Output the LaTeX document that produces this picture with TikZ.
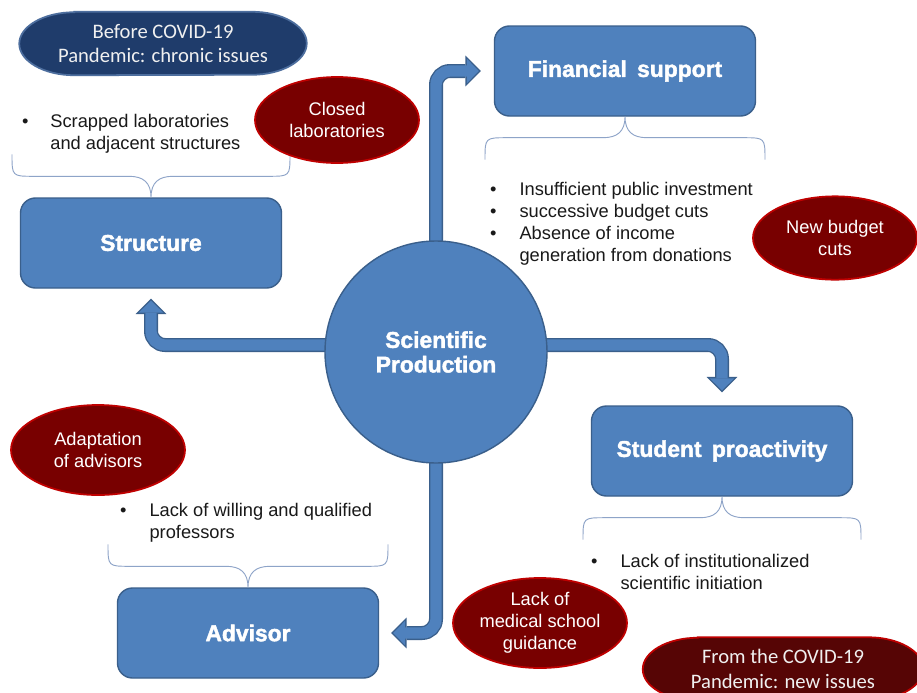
\documentclass[tikz,border=0pt]{standalone}
\usepackage{fontspec}
\setmainfont{Liberation Sans}
\newfontfamily\calfont{Carlito}
\newfontfamily\heavyfont{Liberation Sans Bold}[FakeBold=1.8]
\usetikzlibrary{shapes.geometric, arrows.meta, backgrounds}

\definecolor{boxblue}{HTML}{4F81BD}
\definecolor{boxline}{HTML}{3A5F8B}
\definecolor{navy}{HTML}{1F3C6B}
\definecolor{navyline}{HTML}{4D6E9E}
\definecolor{tagred}{HTML}{780000}
\definecolor{tagline}{HTML}{C00000}
\definecolor{latered}{HTML}{560505}
\definecolor{lateredline}{HTML}{C00000}
\definecolor{bracecol}{HTML}{8EA4C8}

\tikzset{
	mainbox/.style={draw=boxline, line width=1.2pt, fill=boxblue, rounded corners=0.45cm,
		minimum width=7.83cm, minimum height=2.7cm, text=white,
		font=\heavyfont\fontsize{19.5}{22}\selectfont},
	hub/.style={circle, draw=boxline, line width=1.2pt, fill=boxblue, minimum size=6.66cm,
		text=white, align=center, font=\heavyfont\fontsize{19.5}{21}\selectfont},
	redtag/.style={ellipse, draw=tagline, line width=1.5pt, fill=tagred, inner sep=0pt},
	tagtext/.style={text=white, align=center, font=\fontsize{15.6}{18.8}\selectfont},
	eratext/.style={text=white!94!black, align=center, inner sep=0pt,
		minimum height=1.89cm, font=\calfont\fontsize{17.6}{21.3}\selectfont},
	erashape/.style={draw=#1line, line width=1.5pt, fill=#1},
	notes/.style={anchor=base west, inner sep=0pt, text=black!90, font=\fontsize{15.6}{18.8}\selectfont},
	flow/.style 2 args={
		preaction={draw=boxline, line width=0.42cm, rounded corners=0.42cm,
			-{Triangle[length=0.46cm, width=0.92cm, line width=0pt]}, shorten >=#1},
		draw=boxblue, line width=0.34cm, rounded corners=0.42cm,
		-{Triangle[length=0.36cm, width=0.73cm, line width=0pt]}, shorten >=#2},
	pics/curly/.style={code={
		\draw[bracecol, line width=0.8pt] (-#1,0) .. controls (-#1,22) .. (-#1+22,22)
			-- (-22,22) .. controls (-8,22) and (0,28) .. (0,43)
			.. controls (0,28) and (8,22) .. (22,22)
			-- (#1-22,22) .. controls (#1,22) .. (#1,0);
	}}
}

\begin{document}
\begin{tikzpicture}[x=0.03cm, y=-0.03cm]
	\useasboundingbox (0,0) rectangle (917,692);
	\clip (0,0) rectangle (917,692);
	%Scientific Production
		\node[hub] (prod) at (436,352) {Scientific\\Production};
	%Boxes
		\node[mainbox] (struct) at (151,243) {Structure};
		\node[mainbox] (fin) at (625,71) {Financial\hspace{0.45em}support};
		\node[mainbox] (stud) at (722,451) {Student\hspace{0.45em}proactivity};
		\node[mainbox] (adv) at (248,633) {Advisor};
	%Periods
		\node[eratext, minimum width=8.61cm] (before) at (163,43.5) {Before COVID-19\\Pandemic: chronic issues};
		\node[eratext, minimum width=8.4cm] (after) at (783,669) {From the COVID-19\\Pandemic: new issues};
	%Arrows and period shapes, under the rest
		\begin{scope}[on background layer]
			\fill[white] (0,0) rectangle (917,692);
			\draw[flow={0.39cm}{0.447cm}] (prod.center) |- (fin.west);
			\draw[flow={0.30cm}{0.357cm}] ([yshift=0.21cm]prod.center) -| (struct.south);
			\draw[flow={0.39cm}{0.447cm}] ([yshift=0.21cm]prod.center) -| (stud.north);
			\draw[flow={0.36cm}{0.417cm}] (prod.center) |- (adv.east);
			\draw[erashape=navy] ([xshift=1.65cm]before.north west) -- ([xshift=-1.65cm]before.north east)
				arc[start angle=90, end angle=-90, x radius=1.65cm, y radius=0.945cm]
				-- ([xshift=1.65cm]before.south west)
				arc[start angle=270, end angle=90, x radius=1.65cm, y radius=0.945cm] -- cycle;
			\draw[erashape=latered] ([xshift=1.65cm]after.north west) -- ([xshift=-1.65cm]after.north east)
				arc[start angle=90, end angle=-90, x radius=1.65cm, y radius=0.945cm]
				-- ([xshift=1.65cm]after.south west)
				arc[start angle=270, end angle=90, x radius=1.65cm, y radius=0.945cm] -- cycle;
		\end{scope}
	%Braces
		\pic at ([yshift=1.29cm]struct.north) {curly=139};
		\pic[yscale=-1] at ([yshift=-1.29cm]fin.south) {curly=140};
		\pic at ([yshift=1.29cm]adv.north) {curly=140};
		\pic[yscale=-1] at ([yshift=-1.29cm]stud.south) {curly=139};
	%Chronic issues
		\node[notes] (structnote) at (22,127) {\begin{tabular}[t]{@{}p{24pt}@{}l@{}}\textbullet & Scrapped laboratories\\ & and adjacent structures\end{tabular}};
		\node[notes] (finnote) at (490,195) {\begin{tabular}[t]{@{}p{25pt}@{}l@{}}\textbullet & Insufficient public investment\\ \textbullet & successive budget cuts\\ \textbullet & Absence of income\\ & generation from donations\end{tabular}};
		\node[notes] (advnote) at (120,516) {\begin{tabular}[t]{@{}p{25pt}@{}l@{}}\textbullet & Lack of willing and qualified\\ & professors\end{tabular}};
		\node[notes] (studnote) at (591,567) {\begin{tabular}[t]{@{}p{25pt}@{}l@{}}\textbullet & Lack of institutionalized\\ & scientific initiation\end{tabular}};
	%New issues
		\node[redtag, minimum width=4.92cm, minimum height=2.58cm, label={[tagtext]center:{Closed\\laboratories}}] (closed) at (337,120) {};
		\node[redtag, minimum width=4.92cm, minimum height=2.5cm, label={[tagtext]center:{New budget\\cuts}}] (cuts) at (835,238) {};
		\node[redtag, minimum width=5.22cm, minimum height=2.7cm, label={[tagtext]center:{Adaptation\\of advisors}}] (adapt) at (98,450) {};
		\node[redtag, minimum width=5.22cm, minimum height=2.7cm, label={[tagtext]center:{Lack of\\medical school\\guidance}}] (guide) at (540,623) {};
\end{tikzpicture}
\end{document}
